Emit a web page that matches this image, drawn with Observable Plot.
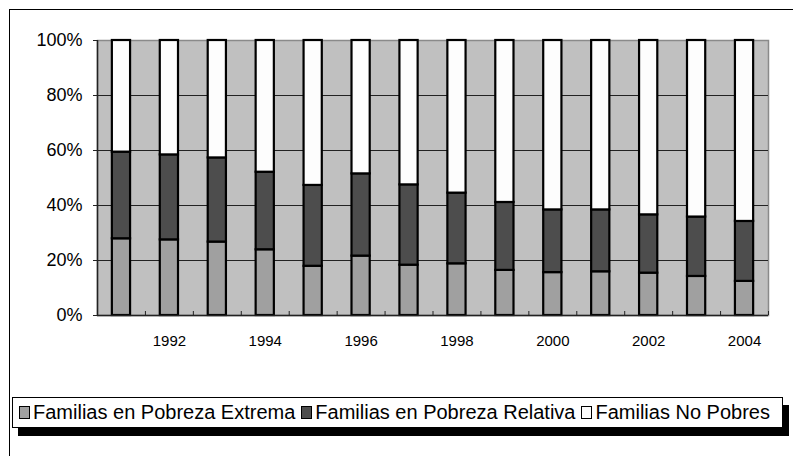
<!DOCTYPE html>
<html>
<head>
<meta charset="utf-8">
<script src="https://cdn.jsdelivr.net/npm/d3@7"></script>
<script src="https://cdn.jsdelivr.net/npm/@observablehq/plot@0.6"></script>
<style>
  html, body { margin: 0; padding: 0; background: #fff; overflow: hidden; }
  #wrap { position: relative; width: 793px; height: 456px; font-family: "Liberation Sans", Arial, sans-serif; }
  #frame { position: absolute; left: 9px; top: 9px; width: 900px; height: 600px; border-left: 1px solid #000; border-top: 1px solid #000; pointer-events: none; }
  #legend { position: absolute; left: 12px; top: 397px; width: 769px; height: 29px; border: 1px solid #000; background: #fff;
            box-shadow: 6px 8px 0 0 #000; display: flex; align-items: center; font-size: 20px; color: #000; white-space: nowrap; }
  .item { display: flex; align-items: center; margin-left: 6px; }
  .sw { width: 9px; height: 11px; border: 1.5px solid #000; margin-right: 3px; }
</style>
</head>
<body>
<div id="wrap">
  <div id="chart"></div>
  <div id="frame"></div>
  <div id="legend"></div>
</div>
<script>
// ---- data ----
const years = [1991, 1992, 1993, 1994, 1995, 1996, 1997, 1998, 1999, 2000, 2001, 2002, 2003, 2004];
const seriesNames = ["Familias en Pobreza Extrema", "Familias en Pobreza Relativa", "Familias No Pobres"];
const extrema  = [27.9, 27.5, 26.7, 23.9, 17.9, 21.6, 18.3, 18.8, 16.4, 15.6, 15.9, 15.4, 14.2, 12.4];
const relativa = [31.5, 30.9, 30.6, 28.2, 29.4, 29.9, 29.2, 25.7, 24.7, 22.8, 22.5, 21.2, 21.6, 21.8];
const noPobres = [40.6, 41.6, 42.7, 47.9, 52.7, 48.5, 52.5, 55.5, 58.9, 61.6, 61.6, 63.4, 64.2, 65.8];
const yTicks = [0, 20, 40, 60, 80, 100];
const xTickLabels = [1992, 1994, 1996, 1998, 2000, 2002, 2004];
const seriesColors = ["#a0a0a0", "#4d4d4d", "#fdfdfd"];

// ---- build table ----
const values = [extrema, relativa, noPobres];
const data = [];
years.forEach((yr, i) => seriesNames.forEach((s, k) => data.push({year: yr, series: s, value: values[k][i]})));

const xDomain = [years[0] - 0.5, years[years.length - 1] + 0.5];
const boundaries = years.slice(1).map(y => y - 0.5).concat([xDomain[1]]);
const half = 0.19;

const chart = Plot.plot({
  width: 793,
  height: 456,
  marginLeft: 97,
  marginRight: 25,
  marginTop: 40,
  marginBottom: 141,
  style: {fontFamily: '"Liberation Sans", Arial, sans-serif', background: "transparent", color: "#000"},
  x: {domain: xDomain, axis: null},
  y: {domain: [0, 100], axis: null},
  color: {domain: seriesNames, range: seriesColors},
  marks: [
    Plot.frame({fill: "#c0c0c0", stroke: "#8a8a8a", strokeWidth: 1.5}),
    Plot.ruleY(yTicks.slice(1, -1), {stroke: "#222", strokeWidth: 1}),
    Plot.rectY(data, Plot.stackY({
      x1: d => d.year - half,
      x2: d => d.year + half,
      y: "value",
      fill: "series",
      order: seriesNames,
      stroke: "#000",
      strokeWidth: 2.2
    })),
    Plot.ruleY([0], {stroke: "#222", strokeWidth: 1.5}),
    Plot.ruleX([xDomain[0]], {stroke: "#222", strokeWidth: 1.5}),
    Plot.ruleX(boundaries, {y1: 0, y2: 0, insetBottom: 4, stroke: "#222", strokeWidth: 1}),
    Plot.axisY({ticks: yTicks, tickFormat: d => d + "%", tickSize: 4, tickPadding: 11, fontSize: 18, stroke: "#222", label: null}),
    Plot.axisX({ticks: xTickLabels, tickFormat: d => String(d), tickSize: 0, tickPadding: 20, fontSize: 15, label: null})
  ]
});
document.getElementById("chart").appendChild(chart);

// ---- legend ----
const legend = document.getElementById("legend");
seriesNames.forEach((s, k) => {
  const item = document.createElement("div");
  item.className = "item";
  const sw = document.createElement("div");
  sw.className = "sw";
  sw.style.background = seriesColors[k];
  const t = document.createElement("span");
  t.textContent = s;
  item.appendChild(sw);
  item.appendChild(t);
  legend.appendChild(item);
});
</script>
</body>
</html>
